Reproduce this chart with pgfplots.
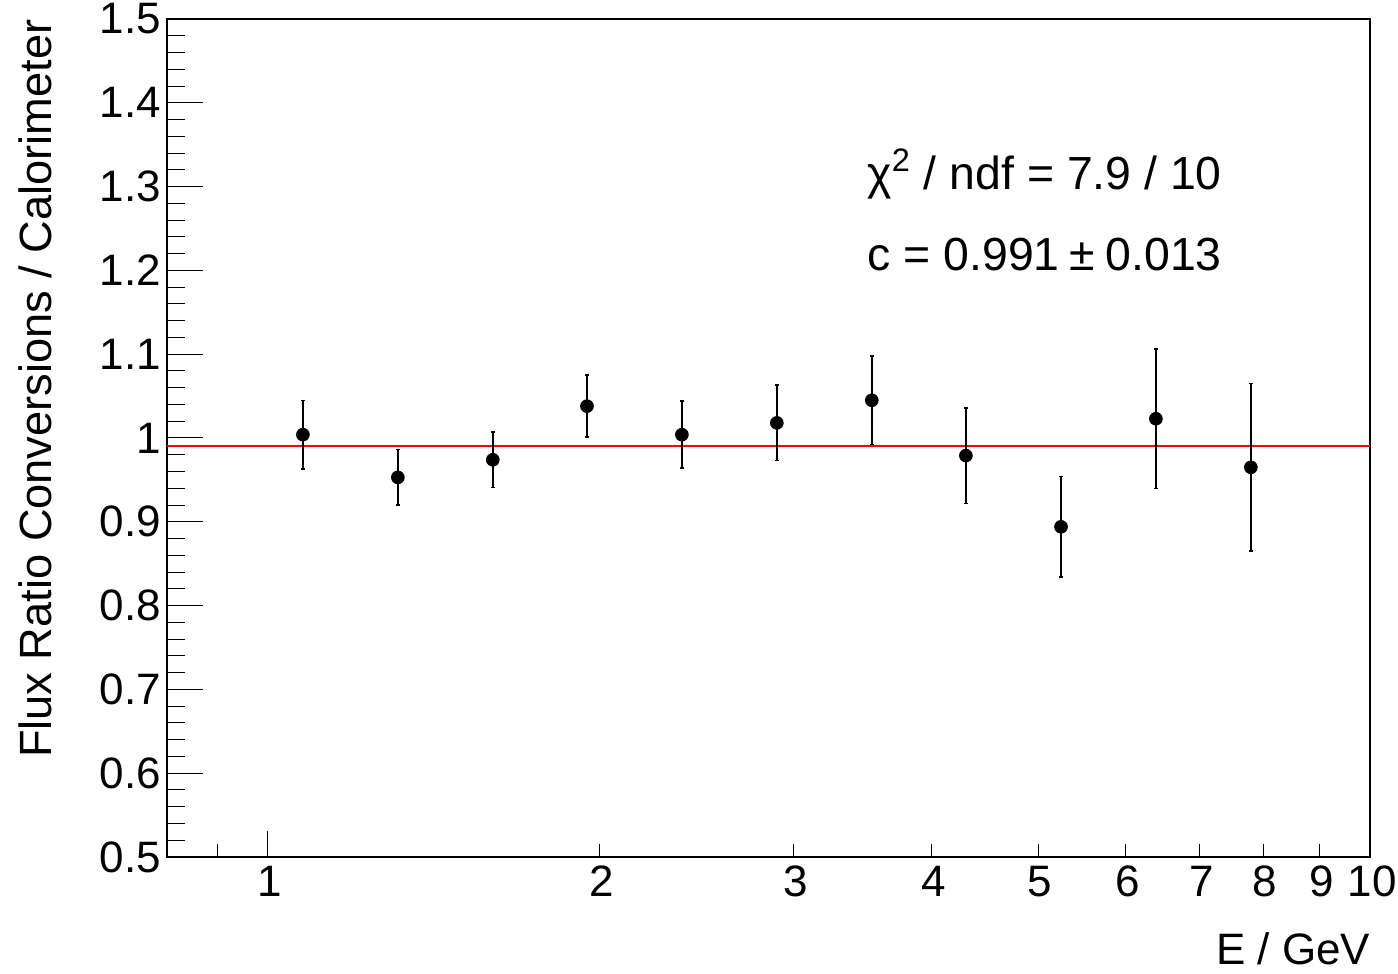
\documentclass[border=0pt]{standalone}
\usepackage{pgfplots}
\pgfplotsset{compat=1.18}
\usepackage{fontspec}
\setmainfont{Liberation Sans}
\definecolor{rootred}{RGB}{255,0,0}
\pgfplotsset{common/.style={
  at={(83.5pt,58.5pt)}, anchor=south west,
  scale only axis, width=601.5pt, height=419pt,
  xmin=0.81, xmax=10, ymin=0.5, ymax=1.5,
  clip=false,
  axis line style={line width=0.6pt},
  tick style={black, line width=0.5pt},
  tick align=inside, xtick pos=bottom, ytick pos=left,
  ticklabel style={font=\fontsize{22}{26}\selectfont},
  /pgf/number format/assume math mode=true,
}}
\begin{document}
\begin{tikzpicture}
\path[use as bounding box] (0,0) rectangle (699pt,487pt);
\begin{semilogxaxis}[common,
  xtick={2,3,4,5,6,7,8,9,10},
  xticklabels={2,3,4,5,6,7,8,9,10},
  extra x ticks={1}, extra x tick labels={1},
  extra x tick style={major tick length=13pt},
  minor xtick={0.9},
  major tick length=6.5pt, minor tick length=6.5pt,
  ytick=\empty,
  xticklabel style={yshift=-1pt, xshift=1pt},
]
\addplot[draw=none] coordinates {(1,1)};
\end{semilogxaxis}
\begin{semilogxaxis}[common,
  xtick=\empty,
  ytick={0.5,0.6,...,1.51},
  yticklabels={0.5,0.6,0.7,0.8,0.9,1,1.1,1.2,1.3,1.4,1.5},
  minor y tick num=4,
  major tick length=18pt, minor tick length=9pt,
  yticklabel style={xshift=0.5pt},
]
\addplot[rootred, line width=1pt, mark=none, forget plot] table {
x y
0.81 0.991
10 0.991
};
\addplot[black, only marks, mark=*, mark size=3.2pt,
  error bars/.cd, y dir=both, y explicit,
  error bar style={line width=0.75pt},
  error mark options={rotate=90, mark size=1pt, line width=0.75pt}]
  coordinates {
  (1.076,1.004) +- (0,0.041)
  (1.312,0.953) +- (0,0.033)
  (1.600,0.974) +- (0,0.033)
  (1.948,1.038) +- (0,0.037)
  (2.375,1.004) +- (0,0.040)
  (2.896,1.018) +- (0,0.045)
  (3.532,1.045) +- (0,0.053)
  (4.299,0.979) +- (0,0.057)
  (5.244,0.894) +- (0,0.060)
  (6.394,1.023) +- (0,0.083)
  (7.798,0.965) +- (0,0.100)
  };
\node[anchor=base west, font=\fontsize{23.2}{27}\selectfont, inner sep=0pt] at (rel axis cs:0.582,0.796) {χ\textsuperscript{2} / ndf = 7.9 / 10};
\node[anchor=base west, font=\fontsize{23.2}{27}\selectfont, inner sep=0pt] at (rel axis cs:0.582,0.700) {c = 0.991\hspace{0.22em}±\hspace{0.22em}0.013};
\node[anchor=base east, font=\fontsize{22}{26}\selectfont, inner sep=0pt] at (rel axis cs:1.0005,-0.1277) {E / GeV};
\node[anchor=base east, rotate=90, font=\fontsize{22.6}{26}\selectfont, inner sep=0pt] at ([xshift=-57.5pt]rel axis cs:0,1.0) {Flux Ratio Conversions / Calorimeter};
\end{semilogxaxis}
\end{tikzpicture}
\end{document}
